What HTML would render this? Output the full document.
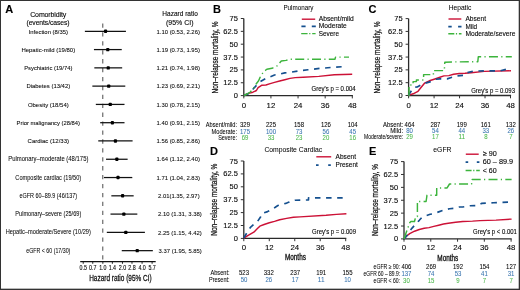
<!DOCTYPE html>
<html><head><meta charset="utf-8"><title>Figure</title>
<style>
html,body{margin:0;padding:0;background:#fff;width:520px;height:290px;overflow:hidden;}
svg{display:block;will-change:transform;}
text{font-family:"Liberation Sans",sans-serif;}
</style></head><body>
<svg width="520" height="290" viewBox="0 0 520 290">
<rect x="0" y="0" width="520" height="290" fill="#fff"/>
<text x="5.30" y="13.10" font-size="11" stroke="#000" stroke-width="0.12" font-weight="bold" fill="#000">A</text>
<text x="48.20" y="16.60" font-size="7.0" stroke="#222" stroke-width="0.12" text-anchor="middle" textLength="36.00" lengthAdjust="spacing">Comorbidity</text>
<text x="48.00" y="24.60" font-size="6.8" stroke="#222" stroke-width="0.12" text-anchor="middle" textLength="43.00" lengthAdjust="spacing">(events/cases)</text>
<text x="180.10" y="16.40" font-size="7.2" stroke="#222" stroke-width="0.12" text-anchor="middle" textLength="35.50" lengthAdjust="spacingAndGlyphs">Hazard ratio</text>
<text x="179.80" y="24.60" font-size="7.2" stroke="#222" stroke-width="0.12" text-anchor="middle" textLength="27.50" lengthAdjust="spacingAndGlyphs">(95% CI)</text>
<line x1="102.75" y1="23.40" x2="102.75" y2="261.50" stroke="#6a6a6a" stroke-width="1.2" stroke-dasharray="4.3 4.62"/>
<text x="48.30" y="33.50" font-size="6.15" text-anchor="middle" textLength="39.40" lengthAdjust="spacingAndGlyphs" stroke="#333" stroke-width="0.08">Infection (8/35)</text>
<text x="156.50" y="33.50" font-size="6.05" textLength="43.40" lengthAdjust="spacingAndGlyphs" stroke="#333" stroke-width="0.08">1.10 (0.53, 2.26)</text>
<line x1="84.88" y1="31.30" x2="125.92" y2="31.30" stroke="#111" stroke-width="1.25" />
<rect x="103.95" y="29.60" width="3.2" height="3.4" rx="0.9" fill="#000"/>
<text x="48.30" y="51.78" font-size="6.15" text-anchor="middle" textLength="53.80" lengthAdjust="spacingAndGlyphs" stroke="#333" stroke-width="0.08">Hepatic-mild (19/80)</text>
<text x="156.50" y="51.78" font-size="6.05" textLength="43.40" lengthAdjust="spacingAndGlyphs" stroke="#333" stroke-width="0.08">1.19 (0.73, 1.95)</text>
<line x1="93.94" y1="49.58" x2="121.75" y2="49.58" stroke="#111" stroke-width="1.25" />
<rect x="106.17" y="47.88" width="3.2" height="3.4" rx="0.9" fill="#000"/>
<text x="48.30" y="70.06" font-size="6.15" text-anchor="middle" textLength="48.20" lengthAdjust="spacingAndGlyphs" stroke="#333" stroke-width="0.08">Psychiatric (19/74)</text>
<text x="156.50" y="70.06" font-size="6.05" textLength="43.40" lengthAdjust="spacingAndGlyphs" stroke="#333" stroke-width="0.08">1.21 (0.74, 1.98)</text>
<line x1="94.33" y1="67.86" x2="122.18" y2="67.86" stroke="#111" stroke-width="1.25" />
<rect x="106.64" y="66.16" width="3.2" height="3.4" rx="0.9" fill="#000"/>
<text x="48.30" y="88.34" font-size="6.15" text-anchor="middle" textLength="43.80" lengthAdjust="spacingAndGlyphs" stroke="#333" stroke-width="0.08">Diabetes (13/42)</text>
<text x="156.50" y="88.34" font-size="6.05" textLength="43.40" lengthAdjust="spacingAndGlyphs" stroke="#333" stroke-width="0.08">1.23 (0.69, 2.21)</text>
<line x1="92.35" y1="86.14" x2="125.29" y2="86.14" stroke="#111" stroke-width="1.25" />
<rect x="107.11" y="84.44" width="3.2" height="3.4" rx="0.9" fill="#000"/>
<text x="48.30" y="106.62" font-size="6.15" text-anchor="middle" textLength="40.80" lengthAdjust="spacingAndGlyphs" stroke="#333" stroke-width="0.08">Obesity (18/54)</text>
<text x="156.50" y="106.62" font-size="6.05" textLength="43.40" lengthAdjust="spacingAndGlyphs" stroke="#333" stroke-width="0.08">1.30 (0.78, 2.15)</text>
<line x1="95.82" y1="104.42" x2="124.51" y2="104.42" stroke="#111" stroke-width="1.25" />
<rect x="108.67" y="102.72" width="3.2" height="3.4" rx="0.9" fill="#000"/>
<text x="48.30" y="124.90" font-size="6.15" text-anchor="middle" textLength="63.50" lengthAdjust="spacingAndGlyphs" stroke="#333" stroke-width="0.08">Prior malignancy (28/84)</text>
<text x="156.50" y="124.90" font-size="6.05" textLength="43.40" lengthAdjust="spacingAndGlyphs" stroke="#333" stroke-width="0.08">1.40 (0.91, 2.15)</text>
<line x1="100.18" y1="122.70" x2="124.51" y2="122.70" stroke="#111" stroke-width="1.25" />
<rect x="110.77" y="121.00" width="3.2" height="3.4" rx="0.9" fill="#000"/>
<text x="48.30" y="143.18" font-size="6.15" text-anchor="middle" textLength="41.40" lengthAdjust="spacingAndGlyphs" stroke="#333" stroke-width="0.08">Cardiac (12/33)</text>
<text x="156.50" y="143.18" font-size="6.05" textLength="43.40" lengthAdjust="spacingAndGlyphs" stroke="#333" stroke-width="0.08">1.56 (0.85, 2.86)</text>
<line x1="98.25" y1="140.98" x2="132.59" y2="140.98" stroke="#111" stroke-width="1.25" />
<rect x="113.83" y="139.28" width="3.2" height="3.4" rx="0.9" fill="#000"/>
<text x="48.30" y="161.36" font-size="6.6" text-anchor="middle" textLength="80.20" lengthAdjust="spacingAndGlyphs" stroke="#333" stroke-width="0.05">Pulmonary–moderate (48/175)</text>
<text x="156.50" y="161.46" font-size="6.05" textLength="43.40" lengthAdjust="spacingAndGlyphs" stroke="#333" stroke-width="0.08">1.64 (1.12, 2.40)</text>
<line x1="106.06" y1="159.26" x2="127.63" y2="159.26" stroke="#111" stroke-width="1.25" />
<rect x="115.25" y="157.56" width="3.2" height="3.4" rx="0.9" fill="#000"/>
<text x="48.30" y="179.64" font-size="6.6" text-anchor="middle" textLength="65.90" lengthAdjust="spacingAndGlyphs" stroke="#333" stroke-width="0.05">Composite cardiac (19/50)</text>
<text x="156.50" y="179.74" font-size="6.05" textLength="43.40" lengthAdjust="spacingAndGlyphs" stroke="#333" stroke-width="0.08">1.71 (1.04, 2.83)</text>
<line x1="103.96" y1="177.54" x2="132.29" y2="177.54" stroke="#111" stroke-width="1.25" />
<rect x="116.43" y="175.84" width="3.2" height="3.4" rx="0.9" fill="#000"/>
<text x="48.30" y="197.92" font-size="6.6" text-anchor="middle" textLength="57.60" lengthAdjust="spacingAndGlyphs" stroke="#333" stroke-width="0.05">eGFR 60–89.9 (46/137)</text>
<text x="158.00" y="198.02" font-size="6.05" textLength="41.60" lengthAdjust="spacingAndGlyphs" stroke="#333" stroke-width="0.08">2.01(1.35, 2.97)</text>
<line x1="111.34" y1="195.82" x2="133.66" y2="195.82" stroke="#111" stroke-width="1.25" />
<rect x="121.01" y="194.12" width="3.2" height="3.4" rx="0.9" fill="#000"/>
<text x="48.30" y="216.20" font-size="6.6" text-anchor="middle" textLength="65.90" lengthAdjust="spacingAndGlyphs" stroke="#333" stroke-width="0.05">Pulmonary–severe (25/69)</text>
<text x="158.00" y="216.30" font-size="6.05" textLength="43.80" lengthAdjust="spacingAndGlyphs" stroke="#333" stroke-width="0.08">2.10 (1.31, 3.38)</text>
<line x1="110.49" y1="214.10" x2="137.32" y2="214.10" stroke="#111" stroke-width="1.25" />
<rect x="122.25" y="212.40" width="3.2" height="3.4" rx="0.9" fill="#000"/>
<text x="48.30" y="234.48" font-size="6.6" text-anchor="middle" textLength="85.20" lengthAdjust="spacingAndGlyphs" stroke="#333" stroke-width="0.05">Hepatic–moderate/Severe (10/29)</text>
<text x="158.00" y="234.58" font-size="6.05" textLength="43.80" lengthAdjust="spacingAndGlyphs" stroke="#333" stroke-width="0.08">2.25 (1.15, 4.42)</text>
<line x1="106.81" y1="232.38" x2="144.91" y2="232.38" stroke="#111" stroke-width="1.25" />
<rect x="124.20" y="230.68" width="3.2" height="3.4" rx="0.9" fill="#000"/>
<text x="48.30" y="252.76" font-size="6.6" text-anchor="middle" textLength="44.10" lengthAdjust="spacingAndGlyphs" stroke="#333" stroke-width="0.05">eGFR &lt; 60 (17/30)</text>
<text x="158.60" y="252.86" font-size="6.05" textLength="43.20" lengthAdjust="spacingAndGlyphs" stroke="#333" stroke-width="0.08">3.37 (1.95, 5.85)</text>
<line x1="121.75" y1="250.66" x2="152.84" y2="250.66" stroke="#111" stroke-width="1.25" />
<rect x="135.63" y="248.96" width="3.2" height="3.4" rx="0.9" fill="#000"/>
<line x1="80.20" y1="261.60" x2="155.70" y2="261.60" stroke="#111" stroke-width="1.1" />
<line x1="83.23" y1="261.60" x2="83.23" y2="263.80" stroke="#111" stroke-width="0.9" />
<text x="83.23" y="270.00" font-size="6.4" stroke="#222" stroke-width="0.12" text-anchor="middle" textLength="7.40" lengthAdjust="spacingAndGlyphs">0.5</text>
<line x1="92.76" y1="261.60" x2="92.76" y2="263.80" stroke="#111" stroke-width="0.9" />
<text x="92.76" y="270.00" font-size="6.4" stroke="#222" stroke-width="0.12" text-anchor="middle" textLength="7.40" lengthAdjust="spacingAndGlyphs">0.7</text>
<line x1="102.85" y1="261.60" x2="102.85" y2="263.80" stroke="#111" stroke-width="0.9" />
<text x="102.85" y="270.00" font-size="6.4" stroke="#222" stroke-width="0.12" text-anchor="middle" textLength="7.40" lengthAdjust="spacingAndGlyphs">1.0</text>
<line x1="112.37" y1="261.60" x2="112.37" y2="263.80" stroke="#111" stroke-width="0.9" />
<text x="112.37" y="270.00" font-size="6.4" stroke="#222" stroke-width="0.12" text-anchor="middle" textLength="7.40" lengthAdjust="spacingAndGlyphs">1.4</text>
<line x1="122.47" y1="261.60" x2="122.47" y2="263.80" stroke="#111" stroke-width="0.9" />
<text x="122.47" y="270.00" font-size="6.4" stroke="#222" stroke-width="0.12" text-anchor="middle" textLength="7.40" lengthAdjust="spacingAndGlyphs">2.0</text>
<line x1="131.99" y1="261.60" x2="131.99" y2="263.80" stroke="#111" stroke-width="0.9" />
<text x="131.99" y="270.00" font-size="6.4" stroke="#222" stroke-width="0.12" text-anchor="middle" textLength="7.40" lengthAdjust="spacingAndGlyphs">2.8</text>
<line x1="142.08" y1="261.60" x2="142.08" y2="263.80" stroke="#111" stroke-width="0.9" />
<text x="142.08" y="270.00" font-size="6.4" stroke="#222" stroke-width="0.12" text-anchor="middle" textLength="7.40" lengthAdjust="spacingAndGlyphs">4.0</text>
<line x1="152.11" y1="261.60" x2="152.11" y2="263.80" stroke="#111" stroke-width="0.9" />
<text x="152.11" y="270.00" font-size="6.4" stroke="#222" stroke-width="0.12" text-anchor="middle" textLength="7.40" lengthAdjust="spacingAndGlyphs">5.7</text>
<text x="120.40" y="281.20" font-size="9.8" text-anchor="middle" textLength="62.50" lengthAdjust="spacingAndGlyphs" stroke="#222" stroke-width="0.3">Hazard ratio (95% CI)</text>
<text x="213.00" y="12.80" font-size="11" stroke="#000" stroke-width="0.12" font-weight="bold" fill="#000">B</text>
<text x="283.40" y="10.30" font-size="7.0" stroke="#222" stroke-width="0.04" textLength="30.00" lengthAdjust="spacingAndGlyphs">Pulmonary</text>
<text x="0.00" y="0.00" font-size="8.5" text-anchor="middle" textLength="72.00" lengthAdjust="spacingAndGlyphs" transform="translate(218.30,57.50) rotate(-90)" stroke="#222" stroke-width="0.25">Non–relapse mortality, %</text>
<line x1="243.80" y1="18.50" x2="243.80" y2="96.20" stroke="#2a2a2a" stroke-width="1.3" />
<line x1="243.20" y1="95.60" x2="352.90" y2="95.60" stroke="#2a2a2a" stroke-width="1.3" />
<line x1="240.80" y1="95.60" x2="243.80" y2="95.60" stroke="#333" stroke-width="1" />
<text x="237.90" y="98.10" font-size="7.5" stroke="#222" stroke-width="0.12" text-anchor="end">0</text>
<line x1="240.80" y1="82.75" x2="243.80" y2="82.75" stroke="#333" stroke-width="1" />
<text x="237.90" y="85.25" font-size="7.5" stroke="#222" stroke-width="0.12" text-anchor="end">12.5</text>
<line x1="240.80" y1="69.90" x2="243.80" y2="69.90" stroke="#333" stroke-width="1" />
<text x="237.90" y="72.40" font-size="7.5" stroke="#222" stroke-width="0.12" text-anchor="end">25</text>
<line x1="240.80" y1="57.05" x2="243.80" y2="57.05" stroke="#333" stroke-width="1" />
<text x="237.90" y="59.55" font-size="7.5" stroke="#222" stroke-width="0.12" text-anchor="end">37.5</text>
<line x1="240.80" y1="44.20" x2="243.80" y2="44.20" stroke="#333" stroke-width="1" />
<text x="237.90" y="46.70" font-size="7.5" stroke="#222" stroke-width="0.12" text-anchor="end">50</text>
<line x1="240.80" y1="31.35" x2="243.80" y2="31.35" stroke="#333" stroke-width="1" />
<text x="237.90" y="33.85" font-size="7.5" stroke="#222" stroke-width="0.12" text-anchor="end">62.5</text>
<line x1="240.80" y1="18.50" x2="243.80" y2="18.50" stroke="#333" stroke-width="1" />
<text x="237.90" y="21.00" font-size="7.5" stroke="#222" stroke-width="0.12" text-anchor="end">75</text>
<line x1="243.80" y1="95.60" x2="243.80" y2="98.40" stroke="#333" stroke-width="1" />
<text x="243.80" y="107.90" font-size="7.8" stroke="#222" stroke-width="0.12" text-anchor="middle">0</text>
<line x1="270.93" y1="95.60" x2="270.93" y2="98.40" stroke="#333" stroke-width="1" />
<text x="270.93" y="107.90" font-size="7.8" stroke="#222" stroke-width="0.12" text-anchor="middle">12</text>
<line x1="298.05" y1="95.60" x2="298.05" y2="98.40" stroke="#333" stroke-width="1" />
<text x="298.05" y="107.90" font-size="7.8" stroke="#222" stroke-width="0.12" text-anchor="middle">24</text>
<line x1="325.18" y1="95.60" x2="325.18" y2="98.40" stroke="#333" stroke-width="1" />
<text x="325.18" y="107.90" font-size="7.8" stroke="#222" stroke-width="0.12" text-anchor="middle">36</text>
<line x1="352.30" y1="95.60" x2="352.30" y2="98.40" stroke="#333" stroke-width="1" />
<text x="352.30" y="107.90" font-size="7.8" stroke="#222" stroke-width="0.12" text-anchor="middle">48</text>
<polyline points="243.80,95.50 248.60,93.40 252.90,92.20 256.40,90.50 258.10,87.60 261.60,85.30 265.90,85.00 270.20,83.60 274.50,82.40 279.70,81.00 284.80,79.70 290.00,78.40 295.20,77.60 303.30,77.20 318.80,76.40 334.30,74.80 352.20,74.30" fill="none" stroke="#cc1136" stroke-width="1.45" stroke-linejoin="round"/>
<polyline points="243.80,95.50 249.50,93.10 252.90,89.30 257.20,84.50 259.80,81.90 265.90,78.40 269.30,77.10 274.50,75.00 279.70,74.10 284.80,72.90 291.70,72.10 300.00,70.70 308.00,69.80 320.40,68.30 331.20,67.50 342.10,66.70 346.80,66.00" fill="none" stroke="#15508f" stroke-width="1.65" stroke-dasharray="5.5 5.6" stroke-linejoin="round"/>
<polyline points="243.80,95.50 247.00,94.00 250.30,92.00 252.50,89.50 254.40,86.90 256.50,83.50 258.60,80.70 260.00,77.50 261.70,74.50 264.00,71.50 266.80,69.30 272.00,68.30 274.50,67.00 277.20,65.80 279.30,63.40 281.30,61.00 286.00,60.40 290.00,59.30 335.00,59.20 335.50,57.10 349.00,57.10" fill="none" stroke="#3cb43c" stroke-width="1.45" stroke-dasharray="9 3.3 1.2 3.3" stroke-linejoin="round"/>
<text x="311.50" y="90.70" font-size="6.9" stroke="#222" stroke-width="0.12" textLength="44.20" lengthAdjust="spacingAndGlyphs">Grey's p = 0.004</text>
<line x1="301.80" y1="19.20" x2="315.20" y2="19.20" stroke="#cc1136" stroke-width="1.4" />
<text x="318.80" y="21.20" font-size="7.3" stroke="#222" stroke-width="0.12" textLength="35.00" lengthAdjust="spacingAndGlyphs">Absent/mild</text>
<line x1="301.40" y1="26.40" x2="315.80" y2="26.40" stroke="#15508f" stroke-width="1.8" stroke-dasharray="4.2 6.2"/>
<text x="318.80" y="28.40" font-size="7.3" stroke="#222" stroke-width="0.12" textLength="28.00" lengthAdjust="spacingAndGlyphs">Moderate</text>
<line x1="301.20" y1="33.60" x2="315.60" y2="33.60" stroke="#3cb43c" stroke-width="1.4" stroke-dasharray="6.4 1.6 1.2 1.8"/>
<text x="318.80" y="35.60" font-size="7.3" stroke="#222" stroke-width="0.12" textLength="20.20" lengthAdjust="spacingAndGlyphs">Severe</text>
<text x="237.00" y="127.20" font-size="6.8" stroke="#222" stroke-width="0.06" text-anchor="end" textLength="31.20" lengthAdjust="spacingAndGlyphs">Absent/mild:</text>
<text x="245.00" y="127.20" font-size="6.8" stroke="#222" stroke-width="0.06" text-anchor="middle" textLength="10.05" lengthAdjust="spacingAndGlyphs">329</text>
<text x="271.00" y="127.20" font-size="6.8" stroke="#222" stroke-width="0.06" text-anchor="middle" textLength="10.05" lengthAdjust="spacingAndGlyphs">225</text>
<text x="299.00" y="127.20" font-size="6.8" stroke="#222" stroke-width="0.06" text-anchor="middle" textLength="10.05" lengthAdjust="spacingAndGlyphs">158</text>
<text x="325.90" y="127.20" font-size="6.8" stroke="#222" stroke-width="0.06" text-anchor="middle" textLength="10.05" lengthAdjust="spacingAndGlyphs">126</text>
<text x="352.70" y="127.20" font-size="6.8" stroke="#222" stroke-width="0.06" text-anchor="middle" textLength="10.05" lengthAdjust="spacingAndGlyphs">104</text>
<text x="237.00" y="133.60" font-size="6.8" stroke="#222" stroke-width="0.06" text-anchor="end" textLength="25.40" lengthAdjust="spacingAndGlyphs">Moderate:</text>
<text x="245.00" y="133.60" font-size="6.8" stroke="#3a76b0" stroke-width="0.06" text-anchor="middle" fill="#3a76b0" textLength="10.05" lengthAdjust="spacingAndGlyphs">175</text>
<text x="271.00" y="133.60" font-size="6.8" stroke="#3a76b0" stroke-width="0.06" text-anchor="middle" fill="#3a76b0" textLength="10.05" lengthAdjust="spacingAndGlyphs">100</text>
<text x="299.00" y="133.60" font-size="6.8" stroke="#3a76b0" stroke-width="0.06" text-anchor="middle" fill="#3a76b0" textLength="6.70" lengthAdjust="spacingAndGlyphs">73</text>
<text x="325.90" y="133.60" font-size="6.8" stroke="#3a76b0" stroke-width="0.06" text-anchor="middle" fill="#3a76b0" textLength="6.70" lengthAdjust="spacingAndGlyphs">56</text>
<text x="352.70" y="133.60" font-size="6.8" stroke="#3a76b0" stroke-width="0.06" text-anchor="middle" fill="#3a76b0" textLength="6.70" lengthAdjust="spacingAndGlyphs">45</text>
<text x="237.00" y="140.00" font-size="6.8" stroke="#222" stroke-width="0.06" text-anchor="end" textLength="18.80" lengthAdjust="spacingAndGlyphs">Severe:</text>
<text x="245.00" y="140.00" font-size="6.8" stroke="#4cb84c" stroke-width="0.06" text-anchor="middle" fill="#4cb84c" textLength="6.70" lengthAdjust="spacingAndGlyphs">69</text>
<text x="271.00" y="140.00" font-size="6.8" stroke="#4cb84c" stroke-width="0.06" text-anchor="middle" fill="#4cb84c" textLength="6.70" lengthAdjust="spacingAndGlyphs">33</text>
<text x="299.00" y="140.00" font-size="6.8" stroke="#4cb84c" stroke-width="0.06" text-anchor="middle" fill="#4cb84c" textLength="6.70" lengthAdjust="spacingAndGlyphs">23</text>
<text x="325.90" y="140.00" font-size="6.8" stroke="#4cb84c" stroke-width="0.06" text-anchor="middle" fill="#4cb84c" textLength="6.70" lengthAdjust="spacingAndGlyphs">20</text>
<text x="352.70" y="140.00" font-size="6.8" stroke="#4cb84c" stroke-width="0.06" text-anchor="middle" fill="#4cb84c" textLength="6.70" lengthAdjust="spacingAndGlyphs">16</text>
<text x="368.40" y="12.80" font-size="11" stroke="#000" stroke-width="0.12" font-weight="bold" fill="#000">C</text>
<text x="448.70" y="10.30" font-size="7.0" stroke="#222" stroke-width="0.04" textLength="22.60" lengthAdjust="spacingAndGlyphs">Hepatic</text>
<text x="0.00" y="0.00" font-size="8.5" text-anchor="middle" textLength="72.00" lengthAdjust="spacingAndGlyphs" transform="translate(379.50,57.50) rotate(-90)" stroke="#222" stroke-width="0.25">Non–relapse mortality, %</text>
<line x1="408.60" y1="18.60" x2="408.60" y2="96.10" stroke="#2a2a2a" stroke-width="1.3" />
<line x1="408.00" y1="95.50" x2="511.10" y2="95.50" stroke="#2a2a2a" stroke-width="1.3" />
<line x1="405.60" y1="95.50" x2="408.60" y2="95.50" stroke="#333" stroke-width="1" />
<text x="402.70" y="98.00" font-size="7.5" stroke="#222" stroke-width="0.12" text-anchor="end">0</text>
<line x1="405.60" y1="82.68" x2="408.60" y2="82.68" stroke="#333" stroke-width="1" />
<text x="402.70" y="85.18" font-size="7.5" stroke="#222" stroke-width="0.12" text-anchor="end">12.5</text>
<line x1="405.60" y1="69.87" x2="408.60" y2="69.87" stroke="#333" stroke-width="1" />
<text x="402.70" y="72.37" font-size="7.5" stroke="#222" stroke-width="0.12" text-anchor="end">25</text>
<line x1="405.60" y1="57.05" x2="408.60" y2="57.05" stroke="#333" stroke-width="1" />
<text x="402.70" y="59.55" font-size="7.5" stroke="#222" stroke-width="0.12" text-anchor="end">37.5</text>
<line x1="405.60" y1="44.23" x2="408.60" y2="44.23" stroke="#333" stroke-width="1" />
<text x="402.70" y="46.73" font-size="7.5" stroke="#222" stroke-width="0.12" text-anchor="end">50</text>
<line x1="405.60" y1="31.42" x2="408.60" y2="31.42" stroke="#333" stroke-width="1" />
<text x="402.70" y="33.92" font-size="7.5" stroke="#222" stroke-width="0.12" text-anchor="end">62.5</text>
<line x1="405.60" y1="18.60" x2="408.60" y2="18.60" stroke="#333" stroke-width="1" />
<text x="402.70" y="21.10" font-size="7.5" stroke="#222" stroke-width="0.12" text-anchor="end">75</text>
<line x1="408.60" y1="95.50" x2="408.60" y2="98.30" stroke="#333" stroke-width="1" />
<text x="408.60" y="107.80" font-size="7.8" stroke="#222" stroke-width="0.12" text-anchor="middle">0</text>
<line x1="434.08" y1="95.50" x2="434.08" y2="98.30" stroke="#333" stroke-width="1" />
<text x="434.08" y="107.80" font-size="7.8" stroke="#222" stroke-width="0.12" text-anchor="middle">12</text>
<line x1="459.55" y1="95.50" x2="459.55" y2="98.30" stroke="#333" stroke-width="1" />
<text x="459.55" y="107.80" font-size="7.8" stroke="#222" stroke-width="0.12" text-anchor="middle">24</text>
<line x1="485.02" y1="95.50" x2="485.02" y2="98.30" stroke="#333" stroke-width="1" />
<text x="485.02" y="107.80" font-size="7.8" stroke="#222" stroke-width="0.12" text-anchor="middle">36</text>
<line x1="510.50" y1="95.50" x2="510.50" y2="98.30" stroke="#333" stroke-width="1" />
<text x="510.50" y="107.80" font-size="7.8" stroke="#222" stroke-width="0.12" text-anchor="middle">48</text>
<polyline points="408.50,95.40 413.10,93.80 418.00,91.30 421.20,87.30 424.50,83.20 429.30,80.80 434.20,79.20 439.90,77.20 443.90,75.90 448.80,75.60 453.60,74.30 459.30,73.50 465.00,73.30 471.20,72.70 484.20,71.40 511.00,70.80" fill="none" stroke="#cc1136" stroke-width="1.45" stroke-linejoin="round"/>
<polyline points="408.50,95.40 411.50,90.50 413.90,87.30 417.20,87.00 422.80,84.00 425.30,83.20 430.90,81.60 435.80,79.20 439.90,78.90 447.20,78.90 452.00,77.20 456.90,75.90 464.70,75.30 467.20,72.70 473.60,71.10 487.40,70.80 500.40,70.80 506.90,69.10 511.00,68.60" fill="none" stroke="#15508f" stroke-width="1.65" stroke-dasharray="5.5 5.6" stroke-linejoin="round"/>
<polyline points="408.50,95.40 409.00,95.40 409.00,84.90 413.10,84.90 413.10,81.60 416.40,81.60 416.40,80.00 423.60,80.00 423.60,74.60 433.40,74.60 433.40,70.60 444.30,70.60 444.80,62.20 455.00,61.90 477.80,61.70 478.30,56.80 511.80,56.80" fill="none" stroke="#3cb43c" stroke-width="1.45" stroke-dasharray="9 3.3 1.2 3.3" stroke-linejoin="round"/>
<text x="471.20" y="92.60" font-size="6.9" stroke="#222" stroke-width="0.12" textLength="43.80" lengthAdjust="spacingAndGlyphs">Grey's p = 0.093</text>
<line x1="448.50" y1="19.00" x2="461.30" y2="19.00" stroke="#cc1136" stroke-width="1.4" />
<text x="465.40" y="21.00" font-size="7.3" stroke="#222" stroke-width="0.12" textLength="20.60" lengthAdjust="spacingAndGlyphs">Absent</text>
<line x1="448.30" y1="26.70" x2="461.50" y2="26.70" stroke="#15508f" stroke-width="1.8" stroke-dasharray="3.4 6.4"/>
<text x="465.40" y="28.70" font-size="7.3" stroke="#222" stroke-width="0.12" textLength="11.80" lengthAdjust="spacingAndGlyphs">Mild</text>
<line x1="448.30" y1="33.80" x2="461.50" y2="33.80" stroke="#3cb43c" stroke-width="1.4" stroke-dasharray="6 1.6 1.2 1.8"/>
<text x="465.40" y="35.80" font-size="7.3" stroke="#222" stroke-width="0.12" textLength="50.00" lengthAdjust="spacingAndGlyphs">Moderate/severe</text>
<text x="403.20" y="127.20" font-size="6.8" stroke="#222" stroke-width="0.06" text-anchor="end" textLength="20.20" lengthAdjust="spacingAndGlyphs">Absent:</text>
<text x="409.60" y="127.20" font-size="6.8" stroke="#222" stroke-width="0.06" text-anchor="middle" textLength="10.05" lengthAdjust="spacingAndGlyphs">464</text>
<text x="435.40" y="127.20" font-size="6.8" stroke="#222" stroke-width="0.06" text-anchor="middle" textLength="10.05" lengthAdjust="spacingAndGlyphs">287</text>
<text x="461.80" y="127.20" font-size="6.8" stroke="#222" stroke-width="0.06" text-anchor="middle" textLength="10.05" lengthAdjust="spacingAndGlyphs">199</text>
<text x="485.80" y="127.20" font-size="6.8" stroke="#222" stroke-width="0.06" text-anchor="middle" textLength="10.05" lengthAdjust="spacingAndGlyphs">161</text>
<text x="510.80" y="127.20" font-size="6.8" stroke="#222" stroke-width="0.06" text-anchor="middle" textLength="10.05" lengthAdjust="spacingAndGlyphs">132</text>
<text x="403.20" y="133.10" font-size="6.8" stroke="#222" stroke-width="0.06" text-anchor="end" textLength="13.00" lengthAdjust="spacingAndGlyphs">Mild:</text>
<text x="409.60" y="133.10" font-size="6.8" stroke="#3a76b0" stroke-width="0.06" text-anchor="middle" fill="#3a76b0" textLength="6.70" lengthAdjust="spacingAndGlyphs">80</text>
<text x="435.40" y="133.10" font-size="6.8" stroke="#3a76b0" stroke-width="0.06" text-anchor="middle" fill="#3a76b0" textLength="6.70" lengthAdjust="spacingAndGlyphs">54</text>
<text x="461.80" y="133.10" font-size="6.8" stroke="#3a76b0" stroke-width="0.06" text-anchor="middle" fill="#3a76b0" textLength="6.70" lengthAdjust="spacingAndGlyphs">44</text>
<text x="485.80" y="133.10" font-size="6.8" stroke="#3a76b0" stroke-width="0.06" text-anchor="middle" fill="#3a76b0" textLength="6.70" lengthAdjust="spacingAndGlyphs">33</text>
<text x="510.80" y="133.10" font-size="6.8" stroke="#3a76b0" stroke-width="0.06" text-anchor="middle" fill="#3a76b0" textLength="6.70" lengthAdjust="spacingAndGlyphs">26</text>
<text x="403.20" y="139.10" font-size="6.8" stroke="#222" stroke-width="0.06" text-anchor="end" textLength="39.20" lengthAdjust="spacingAndGlyphs">Moderate/severe:</text>
<text x="409.60" y="139.10" font-size="6.8" stroke="#4cb84c" stroke-width="0.06" text-anchor="middle" fill="#4cb84c" textLength="6.70" lengthAdjust="spacingAndGlyphs">29</text>
<text x="435.40" y="139.10" font-size="6.8" stroke="#4cb84c" stroke-width="0.06" text-anchor="middle" fill="#4cb84c" textLength="6.70" lengthAdjust="spacingAndGlyphs">17</text>
<text x="461.80" y="139.10" font-size="6.8" stroke="#4cb84c" stroke-width="0.06" text-anchor="middle" fill="#4cb84c" textLength="6.70" lengthAdjust="spacingAndGlyphs">11</text>
<text x="485.80" y="139.10" font-size="6.8" stroke="#4cb84c" stroke-width="0.06" text-anchor="middle" fill="#4cb84c" textLength="3.35" lengthAdjust="spacingAndGlyphs">8</text>
<text x="510.80" y="139.10" font-size="6.8" stroke="#4cb84c" stroke-width="0.06" text-anchor="middle" fill="#4cb84c" textLength="3.35" lengthAdjust="spacingAndGlyphs">7</text>
<text x="210.00" y="155.00" font-size="11" stroke="#000" stroke-width="0.12" font-weight="bold" fill="#000">D</text>
<text x="264.40" y="152.20" font-size="7.0" stroke="#222" stroke-width="0.04" textLength="57.80" lengthAdjust="spacingAndGlyphs">Composite Cardiac</text>
<text x="0.00" y="0.00" font-size="8.5" text-anchor="middle" textLength="72.00" lengthAdjust="spacingAndGlyphs" transform="translate(217.40,199.70) rotate(-90)" stroke="#222" stroke-width="0.25">Non–relapse mortality, %</text>
<line x1="243.80" y1="161.00" x2="243.80" y2="239.00" stroke="#2a2a2a" stroke-width="1.3" />
<line x1="243.20" y1="238.40" x2="346.30" y2="238.40" stroke="#2a2a2a" stroke-width="1.3" />
<line x1="240.80" y1="238.40" x2="243.80" y2="238.40" stroke="#333" stroke-width="1" />
<text x="237.90" y="240.90" font-size="7.5" stroke="#222" stroke-width="0.12" text-anchor="end">0</text>
<line x1="240.80" y1="225.50" x2="243.80" y2="225.50" stroke="#333" stroke-width="1" />
<text x="237.90" y="228.00" font-size="7.5" stroke="#222" stroke-width="0.12" text-anchor="end">12.5</text>
<line x1="240.80" y1="212.60" x2="243.80" y2="212.60" stroke="#333" stroke-width="1" />
<text x="237.90" y="215.10" font-size="7.5" stroke="#222" stroke-width="0.12" text-anchor="end">25</text>
<line x1="240.80" y1="199.70" x2="243.80" y2="199.70" stroke="#333" stroke-width="1" />
<text x="237.90" y="202.20" font-size="7.5" stroke="#222" stroke-width="0.12" text-anchor="end">37.5</text>
<line x1="240.80" y1="186.80" x2="243.80" y2="186.80" stroke="#333" stroke-width="1" />
<text x="237.90" y="189.30" font-size="7.5" stroke="#222" stroke-width="0.12" text-anchor="end">50</text>
<line x1="240.80" y1="173.90" x2="243.80" y2="173.90" stroke="#333" stroke-width="1" />
<text x="237.90" y="176.40" font-size="7.5" stroke="#222" stroke-width="0.12" text-anchor="end">62.5</text>
<line x1="240.80" y1="161.00" x2="243.80" y2="161.00" stroke="#333" stroke-width="1" />
<text x="237.90" y="163.50" font-size="7.5" stroke="#222" stroke-width="0.12" text-anchor="end">75</text>
<line x1="243.80" y1="238.40" x2="243.80" y2="241.20" stroke="#333" stroke-width="1" />
<text x="243.80" y="249.70" font-size="7.8" stroke="#222" stroke-width="0.12" text-anchor="middle">0</text>
<line x1="269.27" y1="238.40" x2="269.27" y2="241.20" stroke="#333" stroke-width="1" />
<text x="269.27" y="249.70" font-size="7.8" stroke="#222" stroke-width="0.12" text-anchor="middle">12</text>
<line x1="294.75" y1="238.40" x2="294.75" y2="241.20" stroke="#333" stroke-width="1" />
<text x="294.75" y="249.70" font-size="7.8" stroke="#222" stroke-width="0.12" text-anchor="middle">24</text>
<line x1="320.23" y1="238.40" x2="320.23" y2="241.20" stroke="#333" stroke-width="1" />
<text x="320.23" y="249.70" font-size="7.8" stroke="#222" stroke-width="0.12" text-anchor="middle">36</text>
<line x1="345.70" y1="238.40" x2="345.70" y2="241.20" stroke="#333" stroke-width="1" />
<text x="345.70" y="249.70" font-size="7.8" stroke="#222" stroke-width="0.12" text-anchor="middle">48</text>
<polyline points="243.80,238.00 248.60,235.20 253.80,232.20 257.20,228.80 259.80,226.20 264.10,224.50 269.30,222.80 274.50,221.40 279.70,219.70 286.60,218.40 293.40,217.20 300.00,216.90 326.10,215.30 336.40,214.40 346.40,213.80" fill="none" stroke="#cc1136" stroke-width="1.45" stroke-linejoin="round"/>
<polyline points="243.80,238.00 248.30,230.50 250.70,227.10 254.70,223.60 257.20,221.90 260.70,216.70 262.10,213.30 267.60,211.60 271.00,209.80 275.30,207.20 277.90,205.50 285.70,203.40 289.10,202.10 294.80,200.30 308.50,199.90 308.50,197.90 346.80,197.90" fill="none" stroke="#15508f" stroke-width="1.65" stroke-dasharray="5.5 5.6" stroke-linejoin="round"/>
<text x="312.00" y="234.00" font-size="6.9" stroke="#222" stroke-width="0.12" textLength="44.00" lengthAdjust="spacingAndGlyphs">Grey's p = 0.009</text>
<line x1="316.30" y1="156.80" x2="331.20" y2="156.80" stroke="#cc1136" stroke-width="1.4" />
<text x="335.60" y="158.80" font-size="7.3" stroke="#222" stroke-width="0.12" textLength="20.40" lengthAdjust="spacingAndGlyphs">Absent</text>
<line x1="316.00" y1="165.10" x2="331.60" y2="165.10" stroke="#15508f" stroke-width="1.8" stroke-dasharray="2.6 9.6"/>
<text x="335.60" y="167.10" font-size="7.3" stroke="#222" stroke-width="0.12" textLength="22.20" lengthAdjust="spacingAndGlyphs">Present</text>
<text x="229.60" y="275.00" font-size="6.8" stroke="#222" stroke-width="0.06" text-anchor="end" textLength="19.20" lengthAdjust="spacingAndGlyphs">Absent:</text>
<text x="244.00" y="275.00" font-size="6.8" stroke="#222" stroke-width="0.06" text-anchor="middle" textLength="10.05" lengthAdjust="spacingAndGlyphs">523</text>
<text x="268.80" y="275.00" font-size="6.8" stroke="#222" stroke-width="0.06" text-anchor="middle" textLength="10.05" lengthAdjust="spacingAndGlyphs">332</text>
<text x="295.20" y="275.00" font-size="6.8" stroke="#222" stroke-width="0.06" text-anchor="middle" textLength="10.05" lengthAdjust="spacingAndGlyphs">237</text>
<text x="321.20" y="275.00" font-size="6.8" stroke="#222" stroke-width="0.06" text-anchor="middle" textLength="10.05" lengthAdjust="spacingAndGlyphs">191</text>
<text x="347.50" y="275.00" font-size="6.8" stroke="#222" stroke-width="0.06" text-anchor="middle" textLength="10.05" lengthAdjust="spacingAndGlyphs">155</text>
<text x="229.60" y="281.80" font-size="6.8" stroke="#222" stroke-width="0.06" text-anchor="end" textLength="20.60" lengthAdjust="spacingAndGlyphs">Present:</text>
<text x="244.00" y="281.80" font-size="6.8" stroke="#3a76b0" stroke-width="0.06" text-anchor="middle" fill="#3a76b0" textLength="6.70" lengthAdjust="spacingAndGlyphs">50</text>
<text x="268.80" y="281.80" font-size="6.8" stroke="#3a76b0" stroke-width="0.06" text-anchor="middle" fill="#3a76b0" textLength="6.70" lengthAdjust="spacingAndGlyphs">26</text>
<text x="295.20" y="281.80" font-size="6.8" stroke="#3a76b0" stroke-width="0.06" text-anchor="middle" fill="#3a76b0" textLength="6.70" lengthAdjust="spacingAndGlyphs">17</text>
<text x="321.20" y="281.80" font-size="6.8" stroke="#3a76b0" stroke-width="0.06" text-anchor="middle" fill="#3a76b0" textLength="6.70" lengthAdjust="spacingAndGlyphs">11</text>
<text x="347.50" y="281.80" font-size="6.8" stroke="#3a76b0" stroke-width="0.06" text-anchor="middle" fill="#3a76b0" textLength="6.70" lengthAdjust="spacingAndGlyphs">10</text>
<text x="295.40" y="260.30" font-size="9.0" text-anchor="middle" textLength="21.00" lengthAdjust="spacingAndGlyphs" stroke="#222" stroke-width="0.35">Months</text>
<text x="369.00" y="155.00" font-size="11" stroke="#000" stroke-width="0.12" font-weight="bold" fill="#000">E</text>
<text x="433.30" y="152.20" font-size="7.0" stroke="#222" stroke-width="0.04" textLength="18.20" lengthAdjust="spacingAndGlyphs">eGFR</text>
<text x="0.00" y="0.00" font-size="8.5" text-anchor="middle" textLength="72.00" lengthAdjust="spacingAndGlyphs" transform="translate(377.90,200.00) rotate(-90)" stroke="#222" stroke-width="0.25">Non–relapse mortality, %</text>
<line x1="404.00" y1="161.60" x2="404.00" y2="239.50" stroke="#2a2a2a" stroke-width="1.3" />
<line x1="403.40" y1="238.90" x2="511.70" y2="238.90" stroke="#2a2a2a" stroke-width="1.3" />
<line x1="401.00" y1="238.90" x2="404.00" y2="238.90" stroke="#333" stroke-width="1" />
<text x="398.10" y="241.40" font-size="7.5" stroke="#222" stroke-width="0.12" text-anchor="end">0</text>
<line x1="401.00" y1="226.02" x2="404.00" y2="226.02" stroke="#333" stroke-width="1" />
<text x="398.10" y="228.52" font-size="7.5" stroke="#222" stroke-width="0.12" text-anchor="end">12.5</text>
<line x1="401.00" y1="213.13" x2="404.00" y2="213.13" stroke="#333" stroke-width="1" />
<text x="398.10" y="215.63" font-size="7.5" stroke="#222" stroke-width="0.12" text-anchor="end">25</text>
<line x1="401.00" y1="200.25" x2="404.00" y2="200.25" stroke="#333" stroke-width="1" />
<text x="398.10" y="202.75" font-size="7.5" stroke="#222" stroke-width="0.12" text-anchor="end">37.5</text>
<line x1="401.00" y1="187.37" x2="404.00" y2="187.37" stroke="#333" stroke-width="1" />
<text x="398.10" y="189.87" font-size="7.5" stroke="#222" stroke-width="0.12" text-anchor="end">50</text>
<line x1="401.00" y1="174.48" x2="404.00" y2="174.48" stroke="#333" stroke-width="1" />
<text x="398.10" y="176.98" font-size="7.5" stroke="#222" stroke-width="0.12" text-anchor="end">62.5</text>
<line x1="401.00" y1="161.60" x2="404.00" y2="161.60" stroke="#333" stroke-width="1" />
<text x="398.10" y="164.10" font-size="7.5" stroke="#222" stroke-width="0.12" text-anchor="end">75</text>
<line x1="404.00" y1="238.90" x2="404.00" y2="241.70" stroke="#333" stroke-width="1" />
<text x="404.00" y="250.10" font-size="7.8" stroke="#222" stroke-width="0.12" text-anchor="middle">0</text>
<line x1="430.77" y1="238.90" x2="430.77" y2="241.70" stroke="#333" stroke-width="1" />
<text x="430.77" y="250.10" font-size="7.8" stroke="#222" stroke-width="0.12" text-anchor="middle">12</text>
<line x1="457.55" y1="238.90" x2="457.55" y2="241.70" stroke="#333" stroke-width="1" />
<text x="457.55" y="250.10" font-size="7.8" stroke="#222" stroke-width="0.12" text-anchor="middle">24</text>
<line x1="484.33" y1="238.90" x2="484.33" y2="241.70" stroke="#333" stroke-width="1" />
<text x="484.33" y="250.10" font-size="7.8" stroke="#222" stroke-width="0.12" text-anchor="middle">36</text>
<line x1="511.10" y1="238.90" x2="511.10" y2="241.70" stroke="#333" stroke-width="1" />
<text x="511.10" y="250.10" font-size="7.8" stroke="#222" stroke-width="0.12" text-anchor="middle">48</text>
<polyline points="404.00,239.00 406.00,236.50 409.70,233.60 414.50,231.20 419.30,229.50 424.20,228.30 429.00,227.60 433.80,226.40 438.70,225.20 443.50,224.00 448.30,223.20 455.60,222.30 462.80,221.50 472.50,221.10 480.00,220.60 496.00,220.10 511.60,219.10" fill="none" stroke="#cc1136" stroke-width="1.45" stroke-linejoin="round"/>
<polyline points="404.00,239.00 407.00,235.50 409.70,231.20 412.10,228.10 415.70,224.00 419.30,220.30 421.80,217.40 426.60,215.50 430.20,214.30 433.80,213.60 438.70,211.90 443.50,210.20 449.50,208.70 454.40,208.30 459.20,207.00 462.80,207.00 470.00,205.80 477.30,205.60 481.50,203.40 493.60,202.70 511.60,202.00" fill="none" stroke="#15508f" stroke-width="1.65" stroke-dasharray="5.5 5.6" stroke-linejoin="round"/>
<polyline points="404.00,239.00 405.50,234.50 409.70,222.80 410.90,221.50 414.50,221.50 415.70,216.70 417.40,216.50 417.40,201.50 426.10,201.50 427.00,195.20 436.70,195.20 436.70,187.90 447.10,187.90 449.50,184.00 471.60,184.00 472.10,179.40 511.60,179.40" fill="none" stroke="#3cb43c" stroke-width="1.45" stroke-dasharray="9 3.3 1.2 3.3" stroke-linejoin="round"/>
<text x="473.10" y="234.00" font-size="6.9" stroke="#222" stroke-width="0.12" textLength="43.80" lengthAdjust="spacingAndGlyphs">Grey's p &lt; 0.001</text>
<line x1="465.80" y1="154.20" x2="478.70" y2="154.20" stroke="#cc1136" stroke-width="1.4" />
<text x="482.70" y="156.20" font-size="7.3" stroke="#222" stroke-width="0.12" textLength="14.00" lengthAdjust="spacingAndGlyphs">≥ 90</text>
<line x1="465.60" y1="162.20" x2="479.80" y2="162.20" stroke="#15508f" stroke-width="1.8" stroke-dasharray="2.6 8.6"/>
<text x="482.70" y="164.20" font-size="7.3" stroke="#222" stroke-width="0.12" textLength="30.40" lengthAdjust="spacingAndGlyphs">60 – 89.9</text>
<line x1="465.60" y1="170.50" x2="479.80" y2="170.50" stroke="#3cb43c" stroke-width="1.4" stroke-dasharray="6 1.6 1.2 1.8"/>
<text x="482.70" y="172.50" font-size="7.3" stroke="#222" stroke-width="0.12" textLength="14.00" lengthAdjust="spacingAndGlyphs">&lt; 60</text>
<text x="400.00" y="269.20" font-size="6.8" stroke="#222" stroke-width="0.06" text-anchor="end" textLength="26.40" lengthAdjust="spacingAndGlyphs">eGFR ≥ 90:</text>
<text x="406.40" y="269.20" font-size="6.8" stroke="#222" stroke-width="0.06" text-anchor="middle" textLength="10.05" lengthAdjust="spacingAndGlyphs">406</text>
<text x="431.10" y="269.20" font-size="6.8" stroke="#222" stroke-width="0.06" text-anchor="middle" textLength="10.05" lengthAdjust="spacingAndGlyphs">269</text>
<text x="458.00" y="269.20" font-size="6.8" stroke="#222" stroke-width="0.06" text-anchor="middle" textLength="10.05" lengthAdjust="spacingAndGlyphs">192</text>
<text x="484.40" y="269.20" font-size="6.8" stroke="#222" stroke-width="0.06" text-anchor="middle" textLength="10.05" lengthAdjust="spacingAndGlyphs">154</text>
<text x="511.10" y="269.20" font-size="6.8" stroke="#222" stroke-width="0.06" text-anchor="middle" textLength="10.05" lengthAdjust="spacingAndGlyphs">127</text>
<text x="400.00" y="276.00" font-size="6.8" stroke="#222" stroke-width="0.06" text-anchor="end" textLength="36.40" lengthAdjust="spacingAndGlyphs">eGFR 60 – 89.9:</text>
<text x="406.40" y="276.00" font-size="6.8" stroke="#3a76b0" stroke-width="0.06" text-anchor="middle" fill="#3a76b0" textLength="10.05" lengthAdjust="spacingAndGlyphs">137</text>
<text x="431.10" y="276.00" font-size="6.8" stroke="#3a76b0" stroke-width="0.06" text-anchor="middle" fill="#3a76b0" textLength="6.70" lengthAdjust="spacingAndGlyphs">74</text>
<text x="458.00" y="276.00" font-size="6.8" stroke="#3a76b0" stroke-width="0.06" text-anchor="middle" fill="#3a76b0" textLength="6.70" lengthAdjust="spacingAndGlyphs">53</text>
<text x="484.40" y="276.00" font-size="6.8" stroke="#3a76b0" stroke-width="0.06" text-anchor="middle" fill="#3a76b0" textLength="6.70" lengthAdjust="spacingAndGlyphs">41</text>
<text x="511.10" y="276.00" font-size="6.8" stroke="#3a76b0" stroke-width="0.06" text-anchor="middle" fill="#3a76b0" textLength="6.70" lengthAdjust="spacingAndGlyphs">31</text>
<text x="400.00" y="282.60" font-size="6.8" stroke="#222" stroke-width="0.06" text-anchor="end" textLength="26.40" lengthAdjust="spacingAndGlyphs">eGFR &lt; 60:</text>
<text x="406.40" y="282.60" font-size="6.8" stroke="#4cb84c" stroke-width="0.06" text-anchor="middle" fill="#4cb84c" textLength="6.70" lengthAdjust="spacingAndGlyphs">30</text>
<text x="431.10" y="282.60" font-size="6.8" stroke="#4cb84c" stroke-width="0.06" text-anchor="middle" fill="#4cb84c" textLength="6.70" lengthAdjust="spacingAndGlyphs">15</text>
<text x="458.00" y="282.60" font-size="6.8" stroke="#4cb84c" stroke-width="0.06" text-anchor="middle" fill="#4cb84c" textLength="3.35" lengthAdjust="spacingAndGlyphs">9</text>
<text x="484.40" y="282.60" font-size="6.8" stroke="#4cb84c" stroke-width="0.06" text-anchor="middle" fill="#4cb84c" textLength="3.35" lengthAdjust="spacingAndGlyphs">7</text>
<text x="511.10" y="282.60" font-size="6.8" stroke="#4cb84c" stroke-width="0.06" text-anchor="middle" fill="#4cb84c" textLength="3.35" lengthAdjust="spacingAndGlyphs">7</text>
<text x="447.80" y="260.60" font-size="9.0" text-anchor="middle" textLength="21.00" lengthAdjust="spacingAndGlyphs" stroke="#222" stroke-width="0.35">Months</text>
<path d="M0,0.5H520M0.5,0V290M519.4,0V290M0,289.4H520" fill="none" stroke="#333" stroke-width="1"/>
<path d="M519.4,0V290M0,289.4H520" fill="none" stroke="#333" stroke-width="1.2"/>
</svg>
</body></html>
